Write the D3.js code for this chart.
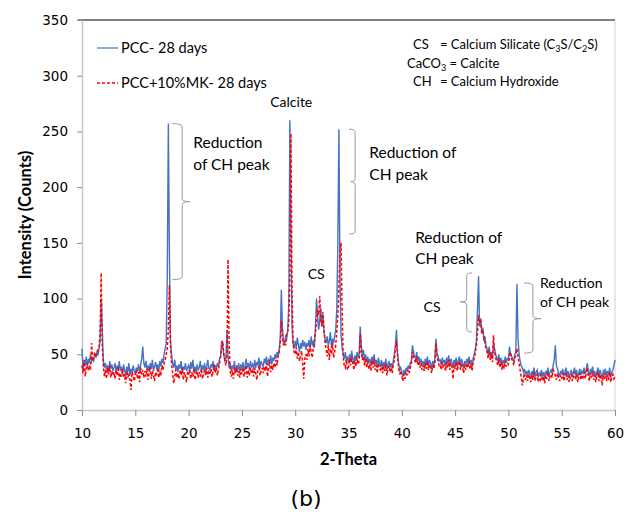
<!DOCTYPE html>
<html>
<head>
<meta charset="utf-8">
<script src="https://cdn.jsdelivr.net/npm/d3@7"></script>
<style>
  body { margin: 0; background: #fff; }
  svg text { font-family: Lato, 'Liberation Sans', Arial, sans-serif; fill: #000; }
</style>
</head>
<body>
<svg width="636" height="512"></svg>
<script>
// 2-theta grid, 0.1 degree steps from 10 to 60
const twoTheta = d3.range(0, 501).map(i => +(10 + i * 0.1).toFixed(1));

// PCC - 28 days (counts), one row per degree
const pcc = [
  55, 36, 44, 40, 48, 38, 46, 42, 50, 44,
  46, 44, 50, 48, 52, 49, 55, 62, 100, 72,
  45, 38, 42, 36, 40, 34, 44, 37, 41, 35,
  38, 42, 33, 40, 36, 44, 35, 39, 32, 41,
  36, 30, 39, 34, 42, 31, 37, 33, 40, 35,
  32, 38, 35, 41, 33, 40, 46, 57, 42, 38,
  44, 36, 40, 34, 42, 37, 45, 35, 39, 43,
  37, 41, 35, 44, 39, 46, 42, 50, 55, 60,
  120, 257, 140, 62, 50, 42, 38, 45, 36, 40,
  34, 41, 37, 44, 33, 39, 36, 42, 35, 38,
  40, 34, 43, 37, 45, 35, 39, 33, 41, 36,
  38, 44, 35, 40, 36, 42, 34, 39, 45, 37,
  36, 41, 38, 44, 35, 40, 37, 42, 39, 46,
  48, 62, 58, 50, 44, 46, 72, 48, 38, 42,
  35, 40, 37, 44, 33, 39, 36, 42, 34, 41,
  37, 43, 35, 40, 46, 38, 42, 36, 44, 39,
  41, 36, 45, 38, 43, 40, 47, 37, 44, 41,
  39, 46, 42, 48, 40, 45, 43, 49, 41, 47,
  44, 50, 46, 52, 48, 55, 65, 108, 75, 62,
  58, 66, 64, 72, 95, 260, 160, 75, 60, 55,
  62, 56, 65, 58, 52, 60, 55, 63, 57, 61,
  54, 60, 57, 63, 55, 66, 58, 62, 56, 75,
  100, 85, 72, 80, 92, 75, 86, 70, 64, 60,
  66, 58, 62, 70, 56, 64, 60, 66, 72, 90,
  150, 252, 120, 68, 56, 50, 46, 52, 44, 48,
  42, 50, 45, 53, 46, 41, 49, 44, 52, 47,
  50, 75, 58, 48, 54, 45, 50, 43, 48, 42,
  46, 40, 48, 43, 50, 41, 45, 38, 47, 42,
  40, 45, 37, 43, 39, 46, 36, 41, 44, 38,
  42, 37, 44, 50, 58, 72, 52, 42, 36, 38,
  34, 30, 36, 32, 38, 35, 40, 37, 42, 45,
  58, 52, 48, 46, 52, 44, 48, 42, 46, 40,
  44, 38, 46, 41, 48, 39, 45, 42, 37, 44,
  40, 46, 64, 52, 48, 44, 45, 40, 47, 42,
  45, 39, 47, 42, 49, 40, 46, 43, 38, 45,
  41, 47, 39, 44, 48, 40, 46, 42, 37, 44,
  40, 46, 42, 48, 41, 45, 39, 47, 50, 55,
  62, 90, 120, 75, 82, 70, 74, 62, 66, 58,
  55, 50, 57, 48, 52, 46, 60, 55, 50, 47,
  44, 50, 42, 47, 40, 45, 41, 48, 43, 46,
  45, 57, 50, 48, 46, 44, 50, 52, 113, 65,
  50, 44, 40, 38, 34, 37, 32, 35, 30, 36,
  33, 29, 35, 31, 38, 30, 34, 36, 29, 33,
  31, 36, 30, 34, 28, 35, 32, 38, 30, 34,
  36, 33, 40, 45, 58, 40, 37, 33, 30, 35,
  32, 37, 30, 34, 38, 31, 35, 29, 33, 36,
  30, 34, 38, 31, 36, 29, 33, 37, 31, 35,
  33, 38, 32, 36, 42, 34, 30, 37, 33, 39,
  31, 35, 29, 34, 38, 30, 36, 32, 28, 35,
  33, 37, 30, 35, 31, 38, 29, 34, 36, 40,
  45
];

// PCC+10%MK - 28 days (counts)
const pccMk = [
  40, 33, 45, 30, 38, 42, 35, 40, 36, 60,
  44, 48, 52, 47, 50, 54, 56, 70, 123, 58,
  40, 30, 36, 28, 38, 32, 40, 29, 35, 31,
  34, 28, 36, 31, 39, 27, 33, 30, 37, 29,
  32, 24, 35, 29, 33, 27, 18, 34, 30, 26,
  31, 36, 28, 34, 25, 38, 32, 36, 29, 35,
  30, 37, 27, 33, 39, 28, 35, 31, 26, 34,
  32, 38, 29, 35, 31, 40, 36, 42, 45, 50,
  55, 72, 112, 58, 42, 33, 24, 30, 36, 29,
  33, 28, 36, 31, 38, 27, 34, 30, 25, 33,
  31, 36, 28, 34, 30, 37, 27, 32, 35, 29,
  34, 30, 37, 28, 33, 36, 31, 38, 29, 34,
  32, 37, 30, 35, 41, 33, 38, 31, 36, 42,
  48, 55, 62, 50, 45, 40, 48, 135, 60, 35,
  30, 36, 28, 38, 33, 40, 31, 35, 29, 37,
  32, 38, 30, 34, 40, 29, 36, 31, 38, 33,
  35, 30, 38, 33, 27, 36, 40, 31, 35, 38,
  33, 39, 35, 42, 30, 37, 44, 34, 40, 36,
  42, 38, 45, 40, 48, 52, 60, 80, 65, 58,
  62, 58, 68, 70, 80, 120, 248, 110, 60, 52,
  50, 56, 46, 52, 44, 48, 53, 42, 28, 46,
  50, 45, 55, 48, 58, 52, 47, 56, 62, 70,
  78, 90, 85, 102, 80, 75, 88, 72, 60, 55,
  48, 58, 45, 55, 50, 60, 47, 52, 58, 70,
  85, 110, 140, 150, 90, 48, 40, 38, 45, 36,
  38, 46, 40, 48, 42, 36, 44, 39, 47, 41,
  44, 68, 52, 45, 48, 40, 46, 38, 44, 37,
  41, 35, 44, 38, 46, 36, 40, 33, 42, 37,
  36, 41, 33, 39, 35, 42, 31, 37, 40, 34,
  38, 33, 40, 45, 55, 62, 48, 38, 32, 35,
  30, 26, 32, 28, 34, 31, 36, 33, 38, 42,
  52, 48, 45, 42, 48, 40, 44, 38, 42, 36,
  40, 35, 42, 37, 44, 36, 41, 38, 33, 40,
  37, 42, 60, 48, 44, 40, 41, 36, 43, 38,
  41, 35, 43, 38, 45, 36, 42, 39, 28, 41,
  37, 43, 35, 40, 44, 36, 42, 38, 33, 40,
  36, 42, 38, 44, 37, 41, 35, 43, 46, 52,
  58, 70, 85, 78, 80, 68, 72, 65, 60, 55,
  52, 46, 54, 45, 50, 43, 67, 52, 47, 44,
  40, 46, 38, 43, 36, 41, 37, 44, 39, 42,
  41, 48, 52, 46, 44, 40, 46, 50, 55, 48,
  42, 36, 30, 22, 28, 33, 27, 31, 26, 32,
  29, 25, 31, 27, 34, 26, 30, 32, 25, 29,
  27, 32, 26, 30, 24, 31, 28, 34, 26, 30,
  32, 29, 36, 34, 31, 27, 33, 29, 26, 31,
  28, 33, 26, 30, 34, 27, 31, 25, 29, 32,
  26, 30, 34, 27, 32, 25, 29, 33, 27, 31,
  29, 34, 28, 32, 38, 30, 26, 33, 29, 35,
  27, 31, 25, 30, 34, 26, 32, 28, 22, 31,
  29, 33, 26, 31, 27, 34, 25, 30, 32, 28,
  30
];

const xTicks = [10, 15, 20, 25, 30, 35, 40, 45, 50, 55, 60];
const yTicks = [0, 50, 100, 150, 200, 250, 300, 350];

// annotation labels: [2-theta, counts, lines, anchor, size]
const labels = [
  [29.63, 276, ["Calcite"], "middle", 14],
  [20.44, 240, ["Reduction", "of CH peak"], "start", 15.5],
  [36.95, 231, ["Reduction of", "CH peak"], "start", 15.5],
  [31.97, 122, ["CS"], "middle", 14],
  [41.25, 155, ["Reduction of", "CH peak"], "start", 15.5],
  [42.84, 92, ["CS"], "middle", 14],
  [52.97, 114, ["Reduction", "of CH peak"], "start", 14]
];

// braces: [line 2-theta, top, bottom, hook 2-theta, mid, notch 2-theta]
const braces = [
  [19.40, 257, 117, 18.47, 187, 20.10],
  [35.62, 252, 158, 35.06, 205, 35.20],
  [46.09, 123, 70, 46.59, 97, 45.50],
  [52.30, 114, 51, 51.47, 82, 53.06]
];

const seriesNames = ["PCC- 28 days", "PCC+10%MK- 28 days"];

const svg = d3.select("svg");
const plotLeft = 82, plotRight = 615, plotTop = 20, plotBottom = 410;

const x = d3.scaleLinear().domain([10, 60]).range([plotLeft, plotRight]);
const y = d3.scaleLinear().domain([0, 350]).range([plotBottom, plotTop]);

// frame
svg.append("line")
    .attr("x1", plotLeft - 4).attr("x2", plotRight)
    .attr("y1", plotTop).attr("y2", plotTop)
    .attr("stroke", "#000").attr("stroke-width", 1);
svg.append("line")
    .attr("x1", plotRight).attr("x2", plotRight)
    .attr("y1", plotTop).attr("y2", plotBottom)
    .attr("stroke", "#d0d0d0").attr("stroke-width", 1);

// axes
const xAxis = svg.append("g")
    .attr("transform", `translate(0, ${plotBottom})`)
    .call(d3.axisBottom(x).tickValues(xTicks).tickSize(6).tickPadding(12).tickSizeOuter(0));
const yAxis = svg.append("g")
    .attr("transform", `translate(${plotLeft}, 0)`)
    .call(d3.axisLeft(y).tickValues(yTicks).tickSize(5).tickPadding(9).tickSizeOuter(0));

[xAxis, yAxis].forEach(g => {
    g.select(".domain").attr("stroke", "#c8c8c8").attr("stroke-width", 1.5);
    g.selectAll(".tick line").attr("stroke", "#8c8c8c");
    g.selectAll(".tick text")
        .style("font-family", "'DejaVu Sans', sans-serif")
        .style("font-size", "13.5px");
});

// series
const line = d3.line()
    .x((d, i) => x(twoTheta[i]))
    .y(d => y(d));

svg.append("path")
    .datum(pcc)
    .attr("fill", "none")
    .attr("stroke", "#4472c4")
    .attr("stroke-width", 1.4)
    .attr("d", line);

svg.append("path")
    .datum(pccMk)
    .attr("fill", "none")
    .attr("stroke", "#ff0000")
    .attr("stroke-width", 1.5)
    .attr("stroke-dasharray", "3,2")
    .attr("d", line);

// axis titles
svg.append("text")
    .attr("x", (plotLeft + plotRight) / 2)
    .attr("y", 465)
    .attr("text-anchor", "middle")
    .style("font-size", "16.5px")
    .style("font-weight", "bold")
    .text("2-Theta");

svg.append("text")
    .attr("transform", "rotate(-90)")
    .attr("x", -215)
    .attr("y", 31)
    .attr("text-anchor", "middle")
    .style("font-size", "16.5px")
    .style("font-weight", "bold")
    .text("Intensity (Counts)");

svg.append("text")
    .attr("x", 306)
    .attr("y", 506)
    .attr("text-anchor", "middle")
    .style("font-family", "'DejaVu Sans', sans-serif")
    .style("font-size", "22px")
    .text("(b)");

// legend
const legend = svg.append("g");
seriesNames.forEach((name, i) => {
    const ly = 48 + i * 35;
    legend.append("line")
        .attr("x1", 97).attr("x2", 118)
        .attr("y1", ly).attr("y2", ly)
        .attr("stroke", i === 0 ? "#4472c4" : "#ff0000")
        .attr("stroke-width", i === 0 ? 1.2 : 1.4)
        .attr("stroke-dasharray", i === 0 ? null : "3,2");
    legend.append("text")
        .attr("x", 121)
        .attr("y", ly + 5)
        .style("font-size", "14.5px")
        .text(name);
});

// abbreviation key
const key = svg.append("g").style("font-size", "13px");
key.append("text").attr("x", 413).attr("y", 49).text("CS");
const t1 = key.append("text").attr("x", 440).attr("y", 49);
t1.append("tspan").text("= Calcium Silicate (C");
t1.append("tspan").attr("dy", 3).style("font-size", "9px").text("3");
t1.append("tspan").attr("dy", -3).text("S/C");
t1.append("tspan").attr("dy", 3).style("font-size", "9px").text("2");
t1.append("tspan").attr("dy", -3).text("S)");

const t2 = key.append("text").attr("x", 407).attr("y", 68);
t2.append("tspan").text("CaCO");
t2.append("tspan").attr("dy", 3).style("font-size", "9px").text("3");
t2.append("tspan").attr("dy", -3).text(" = Calcite");

key.append("text").attr("x", 413).attr("y", 86).text("CH");
key.append("text").attr("x", 440).attr("y", 86).text("= Calcium Hydroxide");

// annotations
labels.forEach(([tx, ty, lines, anchor, size]) => {
    const t = svg.append("text")
        .attr("x", x(tx))
        .attr("y", y(ty))
        .attr("text-anchor", anchor)
        .style("font-size", size + "px");
    lines.forEach((l, i) => {
        t.append("tspan")
            .attr("x", x(tx))
            .attr("dy", i === 0 ? "0.35em" : "1.4em")
            .text(l);
    });
});

braces.forEach(([bx, bt, bb, hx, bm, nx]) => {
    const vx = x(bx), hX = x(hx), nX = x(nx);
    const yt = y(bt), yb = y(bb), ym = y(bm);
    const d = `M${hX},${yt} Q${vx},${yt} ${vx},${yt + 3} L${vx},${ym - 3} Q${vx},${ym} ${nX},${ym}` +
              ` M${nX},${ym} Q${vx},${ym} ${vx},${ym + 3} L${vx},${yb - 3} Q${vx},${yb} ${hX},${yb}`;
    svg.append("path")
        .attr("d", d)
        .attr("fill", "none")
        .attr("stroke", "#9a9a9a")
        .attr("stroke-width", 1);
});
</script>
</body>
</html>
